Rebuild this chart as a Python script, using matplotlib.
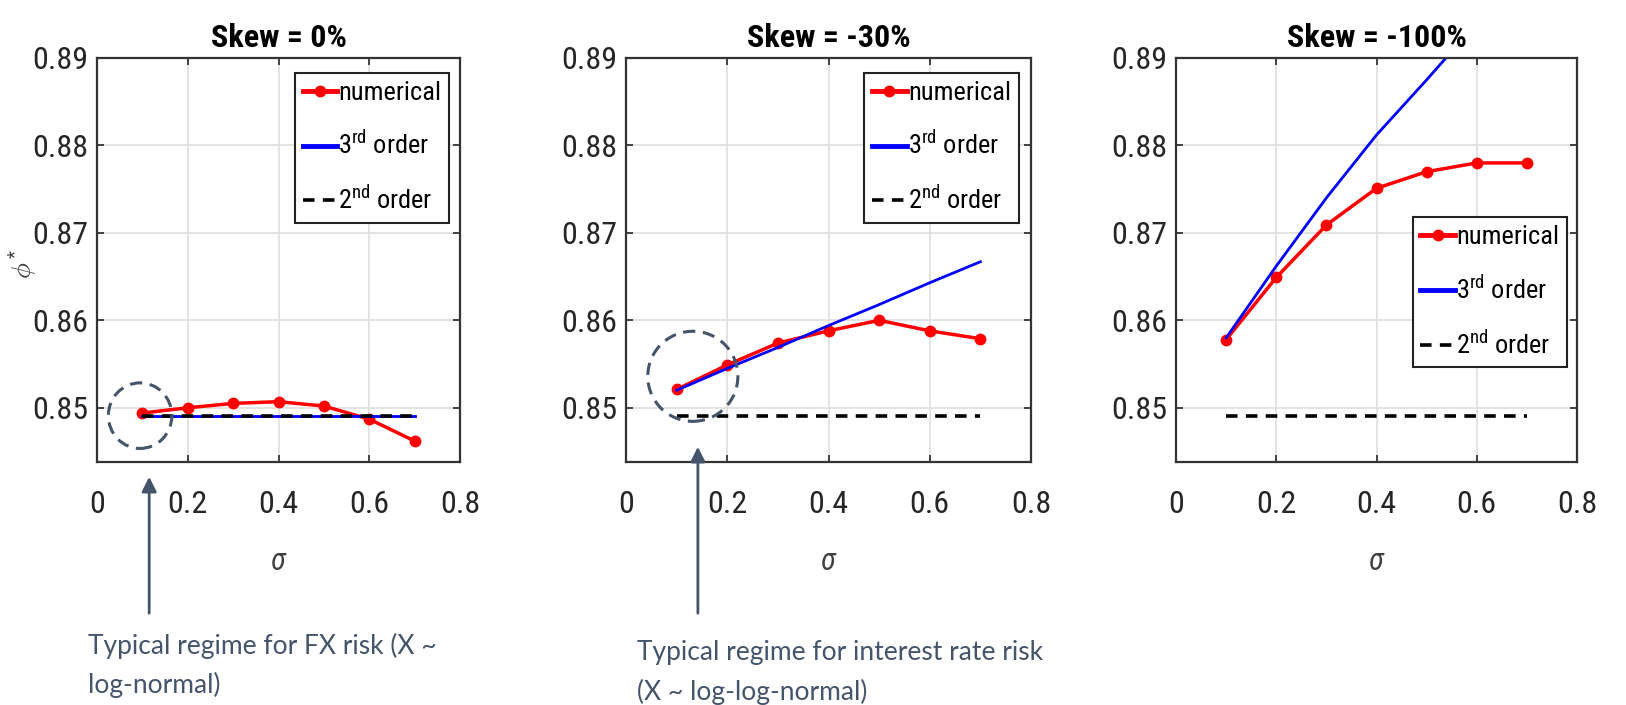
import numpy as np
import matplotlib
matplotlib.use('Agg')
import matplotlib.pyplot as plt
from matplotlib.patches import Ellipse

plt.rcParams['font.family'] = ['Roboto Condensed', 'Liberation Sans Narrow', 'DejaVu Sans']
plt.rcParams['font.stretch'] = 'condensed'
plt.rcParams['mathtext.fontset'] = 'custom'
plt.rcParams['mathtext.rm'] = 'Roboto Condensed'
plt.rcParams['mathtext.it'] = 'Roboto Condensed:italic'

# data
sigma = [0.1, 0.2, 0.3, 0.4, 0.5, 0.6, 0.7]
titles = ['Skew = 0%', 'Skew = -30%', 'Skew = -100%']
num_0 = [0.8494, 0.8500, 0.8505, 0.8507, 0.8502, 0.8487, 0.8462]
third_0 = [0.8491, 0.8491, 0.8491, 0.8491, 0.8491, 0.8491, 0.8491]
num_30 = [0.8521, 0.8549, 0.8574, 0.8588, 0.8600, 0.8588, 0.8579]
third_30 = [0.8520, 0.8545, 0.8569, 0.8594, 0.8618, 0.8643, 0.8667]
num_100 = [0.8578, 0.8649, 0.8709, 0.8751, 0.8770, 0.8780, 0.8780]
third_100 = [0.8580, 0.8662, 0.8740, 0.8812, 0.8875, 0.8940, 0.9003]
second = [0.8491, 0.8491, 0.8491, 0.8491, 0.8491, 0.8491, 0.8491]
numerical = [num_0, num_30, num_100]
third = [third_0, third_30, third_100]

xticks = [0, 0.2, 0.4, 0.6, 0.8]
xticklabels = ['0', '0.2', '0.4', '0.6', '0.8']
yticks = [0.85, 0.86, 0.87, 0.88, 0.89]
yticklabels = ['0.85', '0.86', '0.87', '0.88', '0.89']

W, H = 1626, 705
fig = plt.figure(figsize=(W / 100, H / 100), dpi=100)
# axes boxes in pixels: left, right
boxes = [(97, 460), (626, 1031), (1176, 1577)]
top, bottom = 58, 462
leg_anchor = [(0.970, 0.963), (0.970, 0.963), (0.975, 0.606)]

ann = '#44546A'
axes = []
for i in range(3):
    l, r = boxes[i]
    ax = fig.add_axes([l / W, 1 - bottom / H, (r - l) / W, (bottom - top) / H])
    axes.append(ax)
    ax.plot(sigma, numerical[i], '-o', color='red', lw=2.5, ms=7.5, label='numerical')
    ax.plot(sigma, third[i], '-', color='blue', lw=2, label='3$^{\\rm rd}$ order')
    ax.plot(sigma, second, '--', color='black', lw=2.6, dashes=(3.2, 2.3), label='2$^{\\rm nd}$ order')
    ax.set_xlim(0, 0.8)
    ax.set_ylim(0.8438, 0.89)
    ax.set_xticks(xticks)
    ax.set_xticklabels(xticklabels)
    ax.set_yticks(yticks)
    ax.set_yticklabels(yticklabels)
    ax.tick_params(axis='both', direction='in', length=5, width=1.2, colors='#262626',
                   labelsize=23, top=True, right=True)
    ax.tick_params(axis='x', pad=20)
    ax.tick_params(axis='y', pad=6)
    ax.grid(True, color='#dedede', lw=1.2)
    for s in ax.spines.values():
        s.set_color('#333333')
        s.set_linewidth(1.6)
    ax.set_title(titles[i], fontsize=23, fontweight='bold', pad=8)
    ax.set_xlabel('$\\sigma$', fontsize=22, color='#404040', labelpad=20)
    leg = ax.legend(loc='upper right', bbox_to_anchor=leg_anchor[i], borderaxespad=0,
                    fontsize=19, handlelength=1.3, handletextpad=0.05, labelspacing=1.0,
                    borderpad=0.3, fancybox=False, framealpha=1, edgecolor='#222222')
    leg.get_frame().set_linewidth(1.5)
    for h in leg.get_lines()[:2]:
        h.set_linewidth(3.5)

axes[0].set_ylabel('$\\phi^*$', fontsize=19, color='#404040')
axes[0].yaxis.set_label_coords(-0.16, 0.49)

# highlighted regimes
axes[0].add_patch(Ellipse((0.095, 0.8491), 0.14, 0.0075, fill=False, ec=ann, lw=2.2,
                          ls=(0, (4, 2.5)), clip_on=False, zorder=5))
axes[1].add_patch(Ellipse((0.132, 0.8536), 0.178, 0.0103, fill=False, ec=ann, lw=2.2,
                          ls=(0, (4, 2.5)), clip_on=False, zorder=5))

arrows = [(0, 0.115, 474), (1, 0.142, 444)]
for i, x, ytip in arrows:
    ax = axes[i]
    tr = ax.get_xaxis_transform()
    ax.annotate('', xy=(x, (bottom - ytip) / (bottom - top)), xycoords=tr,
                xytext=(x, (bottom - 616) / (bottom - top)), textcoords=tr,
                arrowprops=dict(arrowstyle='-|>', color=ann, lw=2, mutation_scale=22),
                annotation_clip=False)

fig.text(88 / W, 1 - 654 / H, 'Typical regime for FX risk (X ~', family='Lato',
         fontstretch='normal', fontsize=19, color=ann, va='baseline')
fig.text(88 / W, 1 - 693 / H, 'log-normal)', family='Lato',
         fontstretch='normal', fontsize=19, color=ann, va='baseline')
fig.text(637 / W, 1 - 660 / H, 'Typical regime for interest rate risk', family='Lato',
         fontstretch='normal', fontsize=19, color=ann, va='baseline')
fig.text(637 / W, 1 - 700 / H, '(X ~ log-log-normal)', family='Lato',
         fontstretch='normal', fontsize=19, color=ann, va='baseline')

plt.savefig('out.png', dpi=100)
